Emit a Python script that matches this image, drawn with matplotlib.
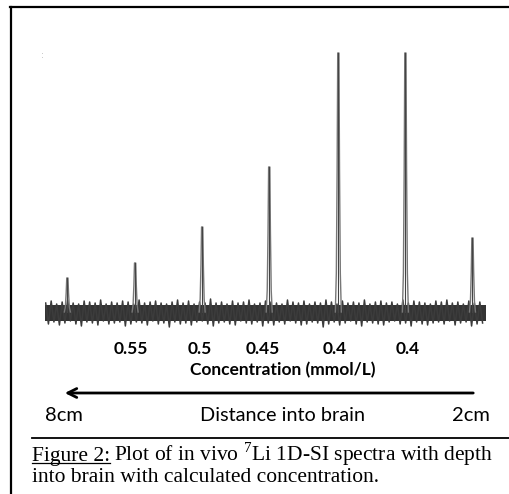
import matplotlib
matplotlib.use('agg')
import matplotlib.pyplot as plt
from matplotlib.lines import Line2D
from matplotlib.transforms import blended_transform_factory
import numpy as np

W, H = 509, 494

# one spectrum per voxel along depth, x in voxel units
peak_x = [0.33, 1.33, 2.32, 3.31, 4.33, 5.32, 6.31]
peak_h = [34, 49, 85, 145, 259, 259, 74]
conc_labels = ["0.55", "0.5", "0.45", "0.4", "0.4"]
conc_x = [1.26, 2.29, 3.21, 4.28, 5.35]
x_end = 6.51

# noise envelope
noise_up = [9, 11, 8, 10, 12, 9, 8, 11, 10, 9,
            12, 8, 10, 9, 11, 10, 8, 12, 9, 10,
            11, 9, 8, 10, 12, 9, 11, 8, 10, 9,
            13, 9, 10, 8, 11, 9, 10, 12, 8, 9,
            11, 10, 9, 8, 12, 10, 9, 11, 8, 10,
            9, 12, 10, 8, 11, 9, 10, 9, 12, 8,
            10, 11, 9, 10, 8, 12, 9, 11, 10, 9,
            8, 11, 10, 12, 9, 10, 8, 11, 9, 10]
noise_lo = [-12, -10, -13, -11, -9, -12, -14, -10, -11, -13,
            -9, -12, -11, -10, -14, -12, -10, -11, -13, -9,
            -12, -11, -15, -10, -12, -11, -13, -10, -9, -12,
            -14, -11, -10, -12, -13, -9, -11, -12, -10, -14,
            -11, -13, -10, -12, -9, -11, -13, -12, -10, -11,
            -15, -12, -10, -13, -11, -9, -12, -14, -10, -11,
            -12, -13, -10, -9, -12, -11, -14, -10, -12, -13,
            -11, -10, -12, -9, -13, -11, -10, -14, -12, -11]

fig = plt.figure(figsize=(W / 100, H / 100), dpi=100)

def fx(px):
    return px / W

def fy(py):
    return 1 - py / H

# frame (only left + top visible, picture is cropped)
fig.add_artist(Line2D([fx(11), fx(11)], [fy(7), 0], color='black', lw=1.6))
fig.add_artist(Line2D([fx(10.2), 1], [fy(7.5), fy(7.5)], color='black', lw=1.6))

ax = fig.add_axes([fx(45), fy(335), fx(441), 290 / H])
ax.set_xlim(0, x_end)
ax.set_ylim(-23, 267)
ax.set_axis_off()

# noisy baseline: zigzag trace between upper and lower envelope
n = len(noise_up)
step = (x_end - 0.02) / n
trace_x = []
trace_y = []
for i in range(n):
    trace_x += [0.01 + i * step, 0.01 + (i + 0.5) * step]
    trace_y += [noise_up[i], noise_lo[i]]
ax.fill_between([0, x_end], -9, 7, color='#333333', lw=0)
ax.plot(trace_x, trace_y, color='#3c3c3c', lw=1.1)

unit = 441 / x_end  # px per voxel
for p, h in zip(peak_x, peak_h):
    dx = np.array([-3, -2, -1.2, -0.6, 0.6, 1.2, 2, 3]) / unit
    fy_ = np.array([0, 0.15, 0.55, 1, 1, 0.55, 0.15, 0])
    ax.plot(p + dx, fy_ * h, color='#777777', lw=1.0)
    ax.plot([p, p], [0, h], color='#444444', lw=0.8)

tr = blended_transform_factory(ax.transData, fig.transFigure)
for x, s in zip(conc_x, conc_labels):
    ax.text(x, fy(354), s, transform=tr, ha='center', va='baseline',
            fontsize=12.5, fontweight='bold', family='Lato')
fig.text(fx(283), fy(375), 'Concentration (mmol/L)', ha='center', va='baseline',
         fontsize=12.5, fontweight='bold', family='Lato')

# tiny marks top-left
fig.text(fx(42), fy(58), ':', color='#aaaaaa', fontsize=6, ha='center', va='baseline')

# depth arrow
fig.add_artist(matplotlib.patches.FancyArrowPatch(
    (fx(476), fy(393)), (fx(62), fy(393)), transform=fig.transFigure,
    arrowstyle='->', mutation_scale=16, lw=2, color='black'))
fig.text(fx(45), fy(421), '8cm', ha='left', va='baseline', fontsize=14.5, family='Lato')
fig.text(fx(282), fy(421), 'Distance into brain', ha='center', va='baseline', fontsize=14.3, family='Lato')
fig.text(fx(490), fy(421), '2cm', ha='right', va='baseline', fontsize=14.5, family='Lato')

fig.add_artist(Line2D([fx(32), 1], [fy(438), fy(438)], color='black', lw=1.3))

# caption
plt.rcParams['mathtext.fontset'] = 'custom'
plt.rcParams['mathtext.rm'] = 'Liberation Serif'
cap_font = dict(family='Liberation Serif', fontsize=15.5, va='baseline', ha='left')
t1 = fig.text(fx(32), fy(461), 'Figure 2:', **cap_font)
fig.canvas.draw()
bb = t1.get_window_extent()
fig.add_artist(Line2D([bb.x0 / W, bb.x1 / W], [fy(463.5), fy(463.5)], color='black', lw=0.9))
fig.text(bb.x1 / W + fx(4), fy(461),
         r'Plot of in vivo $^{\mathrm{7}}$Li 1D-SI spectra with depth', **cap_font)
fig.text(fx(32), fy(482), 'into brain with calculated concentration.', **cap_font)

fig.savefig('out.png', dpi=100)
